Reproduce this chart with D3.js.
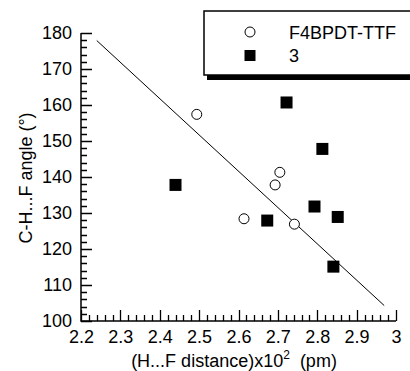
<!DOCTYPE html>
<html><head><meta charset="utf-8">
<script src="https://cdn.jsdelivr.net/npm/d3@7"></script>
<style>body{margin:0;background:#fff}svg{display:block}text{font-family:"Liberation Sans",Arial,sans-serif;fill:#000}</style>
</head><body><svg id="c" width="410" height="371"></svg>
<script>
const seriesNames = ["F4BPDT-TTF", "3"];
const f4X = [2.494, 2.705, 2.693, 2.614, 2.742];
const f4Y = [157.4, 141.3, 137.8, 128.4, 126.9];
const s3X = [2.440, 2.722, 2.813, 2.793, 2.852, 2.673, 2.841];
const s3Y = [137.8, 160.7, 147.8, 131.8, 128.9, 127.9, 115.1];
const fitX = [2.240, 2.970];
const fitY = [177.9, 104.3];
const xTicks = [2.2, 2.3, 2.4, 2.5, 2.6, 2.7, 2.8, 2.9, 3.0];
const yTicks = [100, 110, 120, 130, 140, 150, 160, 170, 180];

const svg = d3.select("#c");
const L = 81, R = 396, T = 33, B = 321;
const x = d3.scaleLinear().domain([2.2, 3.0]).range([L, R]);
const y = d3.scaleLinear().domain([100, 180]).range([B, T]);

const xMinor = d3.range(0, 41).map(i => 2.2 + i * 0.02).filter(v => !xTicks.some(t => Math.abs(t - v) < 1e-6));
const yMinor = d3.range(100, 181, 2).filter(v => v % 10 !== 0);

const xAxis = svg.append("g").attr("transform", `translate(0,${B})`)
  .call(d3.axisBottom(x).tickValues(xTicks).tickSize(0).tickPadding(9)
    .tickFormat(d => d === 3 ? "3" : d3.format(".1f")(d)));
xAxis.select(".domain").remove();
xAxis.selectAll("text").style("font-size", "18px").attr("fill", "#000");

const yAxis = svg.append("g").attr("transform", `translate(${L},0)`)
  .call(d3.axisLeft(y).tickValues(yTicks).tickSize(0).tickPadding(9));
yAxis.select(".domain").remove();
yAxis.selectAll("text").style("font-size", "18px").attr("fill", "#000");

const tickPath = [];
xTicks.forEach(d => { const px = Math.round(x(d)) + 0.5; tickPath.push(`M${px},${B}V${B - 11}`); });
xMinor.forEach(d => { const px = Math.round(x(d)) + 0.5; tickPath.push(`M${px},${B}V${B - 6}`); });
yTicks.forEach(d => { const py = Math.round(y(d)) + 0.5; tickPath.push(`M${L},${py}H${L + 11}`); });
yMinor.forEach(d => { const py = Math.round(y(d)) + 0.5; tickPath.push(`M${L},${py}H${L + 6}`); });
svg.append("path").attr("d", tickPath.join("")).attr("fill", "none").attr("stroke", "#000").attr("stroke-width", 1.3);
svg.append("path").attr("d", `M${L},${T}V${B}H${R}`).attr("fill", "none").attr("stroke", "#000").attr("stroke-width", 1.5);

svg.append("line").attr("x1", x(fitX[0])).attr("y1", y(fitY[0])).attr("x2", x(fitX[1])).attr("y2", y(fitY[1]))
  .attr("stroke", "#000").attr("stroke-width", 1);

svg.append("g").selectAll("circle").data(f4X.map((v, i) => [v, f4Y[i]])).join("circle")
  .attr("cx", d => x(d[0])).attr("cy", d => y(d[1])).attr("r", 5)
  .attr("fill", "#fff").attr("stroke", "#000").attr("stroke-width", 1);
const sq = 12;
svg.append("g").selectAll("rect").data(s3X.map((v, i) => [v, s3Y[i]])).join("rect")
  .attr("x", d => x(d[0]) - sq / 2).attr("y", d => y(d[1]) - sq / 2).attr("width", sq).attr("height", sq)
  .attr("fill", "#000");

const xt = svg.append("text").attr("x", 234).attr("y", 367).attr("text-anchor", "middle").style("font-size", "18px");
xt.append("tspan").text("(H...F distance)x10");
xt.append("tspan").text("2").style("font-size", "12px").attr("dy", -8);
xt.append("tspan").text("\u00a0 (pm)").attr("dy", 8);
svg.append("text").attr("transform", "translate(32,178) rotate(-90)").attr("text-anchor", "middle")
  .style("font-size", "18px").text("C-H...F angle (°)");

svg.append("rect").attr("x", 207).attr("y", 14).attr("width", 220).attr("height", 66).attr("fill", "#000");
svg.append("rect").attr("x", 204).attr("y", 11).attr("width", 220).attr("height", 64)
  .attr("fill", "#fff").attr("stroke", "#000").attr("stroke-width", 1.5);
svg.append("circle").attr("cx", 250).attr("cy", 32).attr("r", 5).attr("fill", "#fff").attr("stroke", "#000");
svg.append("rect").attr("x", 244.5).attr("y", 50).attr("width", 11).attr("height", 11).attr("fill", "#000");
svg.append("text").attr("x", 289).attr("y", 39).style("font-size", "18px").text(seriesNames[0]);
svg.append("text").attr("x", 289).attr("y", 62).style("font-size", "18px").text(seriesNames[1]);
</script></body></html>
